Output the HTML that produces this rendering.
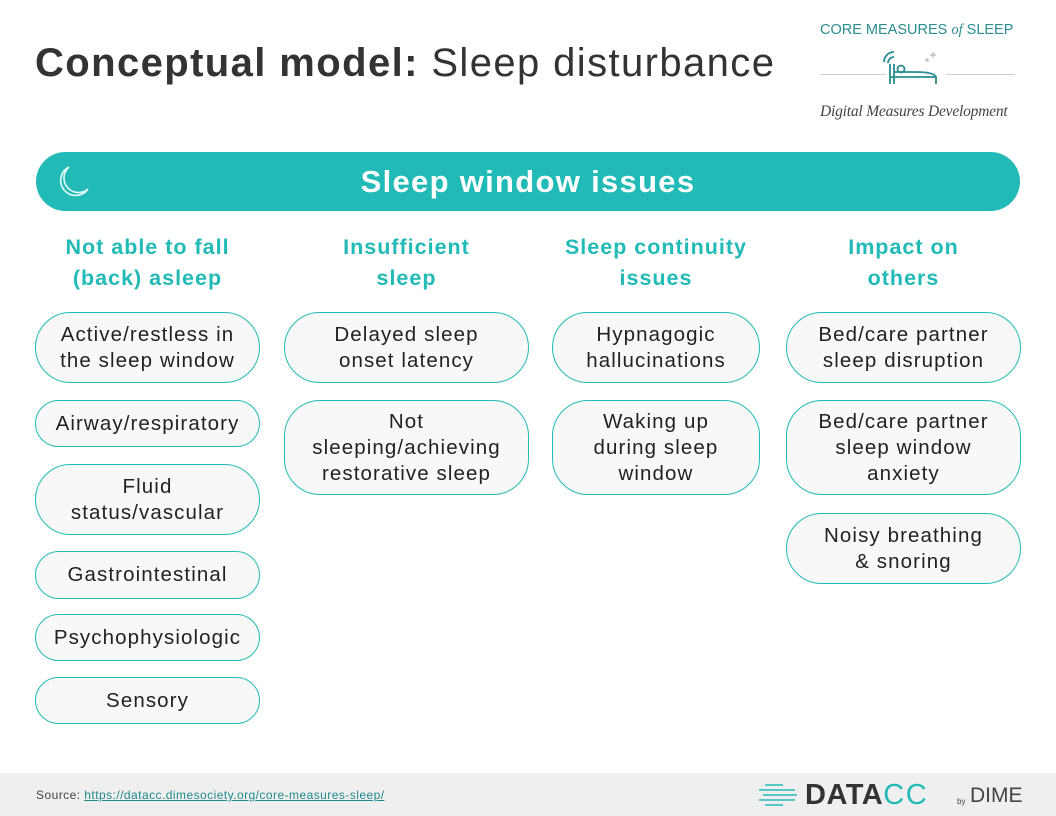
<!DOCTYPE html>
<html><head><meta charset="utf-8"><style>
*{margin:0;padding:0;box-sizing:border-box}
body{width:1056px;height:816px;position:relative;background:#fff;font-family:"Liberation Sans",sans-serif;overflow:hidden}
.abs{position:absolute}
.title{left:35px;top:41px;font-size:40px;color:#333;white-space:nowrap;letter-spacing:1.4px}
.bar{left:36px;top:152px;width:984px;height:59px;background:#22bab7;border-radius:30px;color:#fff;font-weight:bold;font-size:31px;text-align:center;line-height:59px;letter-spacing:1.3px}
.h{font-weight:bold;color:#22bab7;font-size:21.5px;line-height:31px;text-align:center;top:232px;letter-spacing:1px}
.p{border:1.3px solid #22bab7;background:#f8f8f8;border-radius:36px;display:flex;align-items:center;justify-content:center;text-align:center;font-size:20.5px;line-height:26px;color:#222;letter-spacing:1.1px}
.foot{left:0;top:773px;width:1056px;height:43px;background:#efefef}
</style></head><body>
<div class="abs title"><b>Conceptual model:</b> Sleep disturbance</div>

<div class="abs" style="left:820px;top:22px;font-size:14.5px;color:#2a8d90;letter-spacing:0;white-space:nowrap">CORE MEASURES <i style="font-family:'Liberation Serif',serif">of</i> SLEEP</div>
<div class="abs" style="left:820px;top:74px;width:66px;height:1px;background:#ccc"></div>
<div class="abs" style="left:946px;top:74px;width:69px;height:1px;background:#ccc"></div>
<svg class="abs" style="left:880px;top:48px" width="66" height="36" viewBox="0 0 66 36">
<g fill="none" stroke="#2a8d90" stroke-width="1.8">
<path d="M4 14 a10 10 0 0 1 10-10 M8 15 a6 6 0 0 1 6-6"/>
<path d="M10 16 v20 M14 16 v20 M10 29 h46 v7 M14 24 h22 q18 0 20 5"/>
<circle cx="21" cy="21" r="3.5"/>
</g>
<g stroke="#aaa" stroke-width="1"><path d="M50 7h6M53 4v6M45 12h4M47 10v4"/></g>
</svg>
<div class="abs" style="left:820px;top:103px;font-family:'Liberation Serif',serif;font-style:italic;font-size:15.5px;color:#444;white-space:nowrap;letter-spacing:-0.2px">Digital Measures Development</div>

<div class="abs bar">Sleep window issues</div>
<svg class="abs" style="left:55px;top:165px" width="36" height="34" viewBox="0 0 36 34"><path d="M14 2 A15 15 0 1 0 33 24 A13 13 0 0 1 14 2 Z" fill="none" stroke="#e8fbfa" stroke-width="1.6"/></svg>

<div class="abs h" style="left:35px;width:225px">Not able to fall<br>(back) asleep</div>
<div class="abs h" style="left:284px;width:245px">Insufficient<br>sleep</div>
<div class="abs h" style="left:552px;width:208px">Sleep continuity<br>issues</div>
<div class="abs h" style="left:786px;width:235px">Impact on<br>others</div>

<div class="abs p" style="left:35px;top:312px;width:225px;height:71px">Active/restless in<br>the sleep window</div>
<div class="abs p" style="left:35px;top:400px;width:225px;height:47px">Airway/respiratory</div>
<div class="abs p" style="left:35px;top:464px;width:225px;height:71px">Fluid<br>status/vascular</div>
<div class="abs p" style="left:35px;top:551px;width:225px;height:48px">Gastrointestinal</div>
<div class="abs p" style="left:35px;top:614px;width:225px;height:47px">Psychophysiologic</div>
<div class="abs p" style="left:35px;top:677px;width:225px;height:47px">Sensory</div>

<div class="abs p" style="left:284px;top:312px;width:245px;height:71px">Delayed sleep<br>onset latency</div>
<div class="abs p" style="left:284px;top:400px;width:245px;height:95px">Not<br>sleeping/achieving<br>restorative sleep</div>

<div class="abs p" style="left:552px;top:312px;width:208px;height:71px">Hypnagogic<br>hallucinations</div>
<div class="abs p" style="left:552px;top:400px;width:208px;height:95px">Waking up<br>during sleep<br>window</div>

<div class="abs p" style="left:786px;top:312px;width:235px;height:71px">Bed/care partner<br>sleep disruption</div>
<div class="abs p" style="left:786px;top:400px;width:235px;height:95px">Bed/care partner<br>sleep window<br>anxiety</div>
<div class="abs p" style="left:786px;top:513px;width:235px;height:71px">Noisy breathing<br>&amp; snoring</div>

<div class="abs foot"></div>
<div class="abs" style="left:36px;top:788px;font-size:12px;color:#444;white-space:nowrap;letter-spacing:0.45px">Source: <span style="color:#1f8a8a;text-decoration:underline">https://datacc.dimesociety.org/core-measures-sleep/</span></div>
<svg class="abs" style="left:757px;top:782px" width="44" height="26" viewBox="0 0 44 26"><g stroke="#22bab7" stroke-width="1.6"><path d="M8 3h18M2 8h36M6 13h34M2 18h36M8 23h18"/></g></svg>
<div class="abs" style="left:805px;top:779px;font-size:29px;font-weight:bold;color:#333;white-space:nowrap;letter-spacing:0.5px">DATA<span style="color:#22bab7;font-weight:normal;letter-spacing:1.5px">CC</span></div>
<div class="abs" style="left:957px;top:797px;font-size:8px;color:#444">by</div>
<div class="abs" style="left:970px;top:784px;font-size:21px;color:#444;white-space:nowrap">DIME</div>
</body></html>
